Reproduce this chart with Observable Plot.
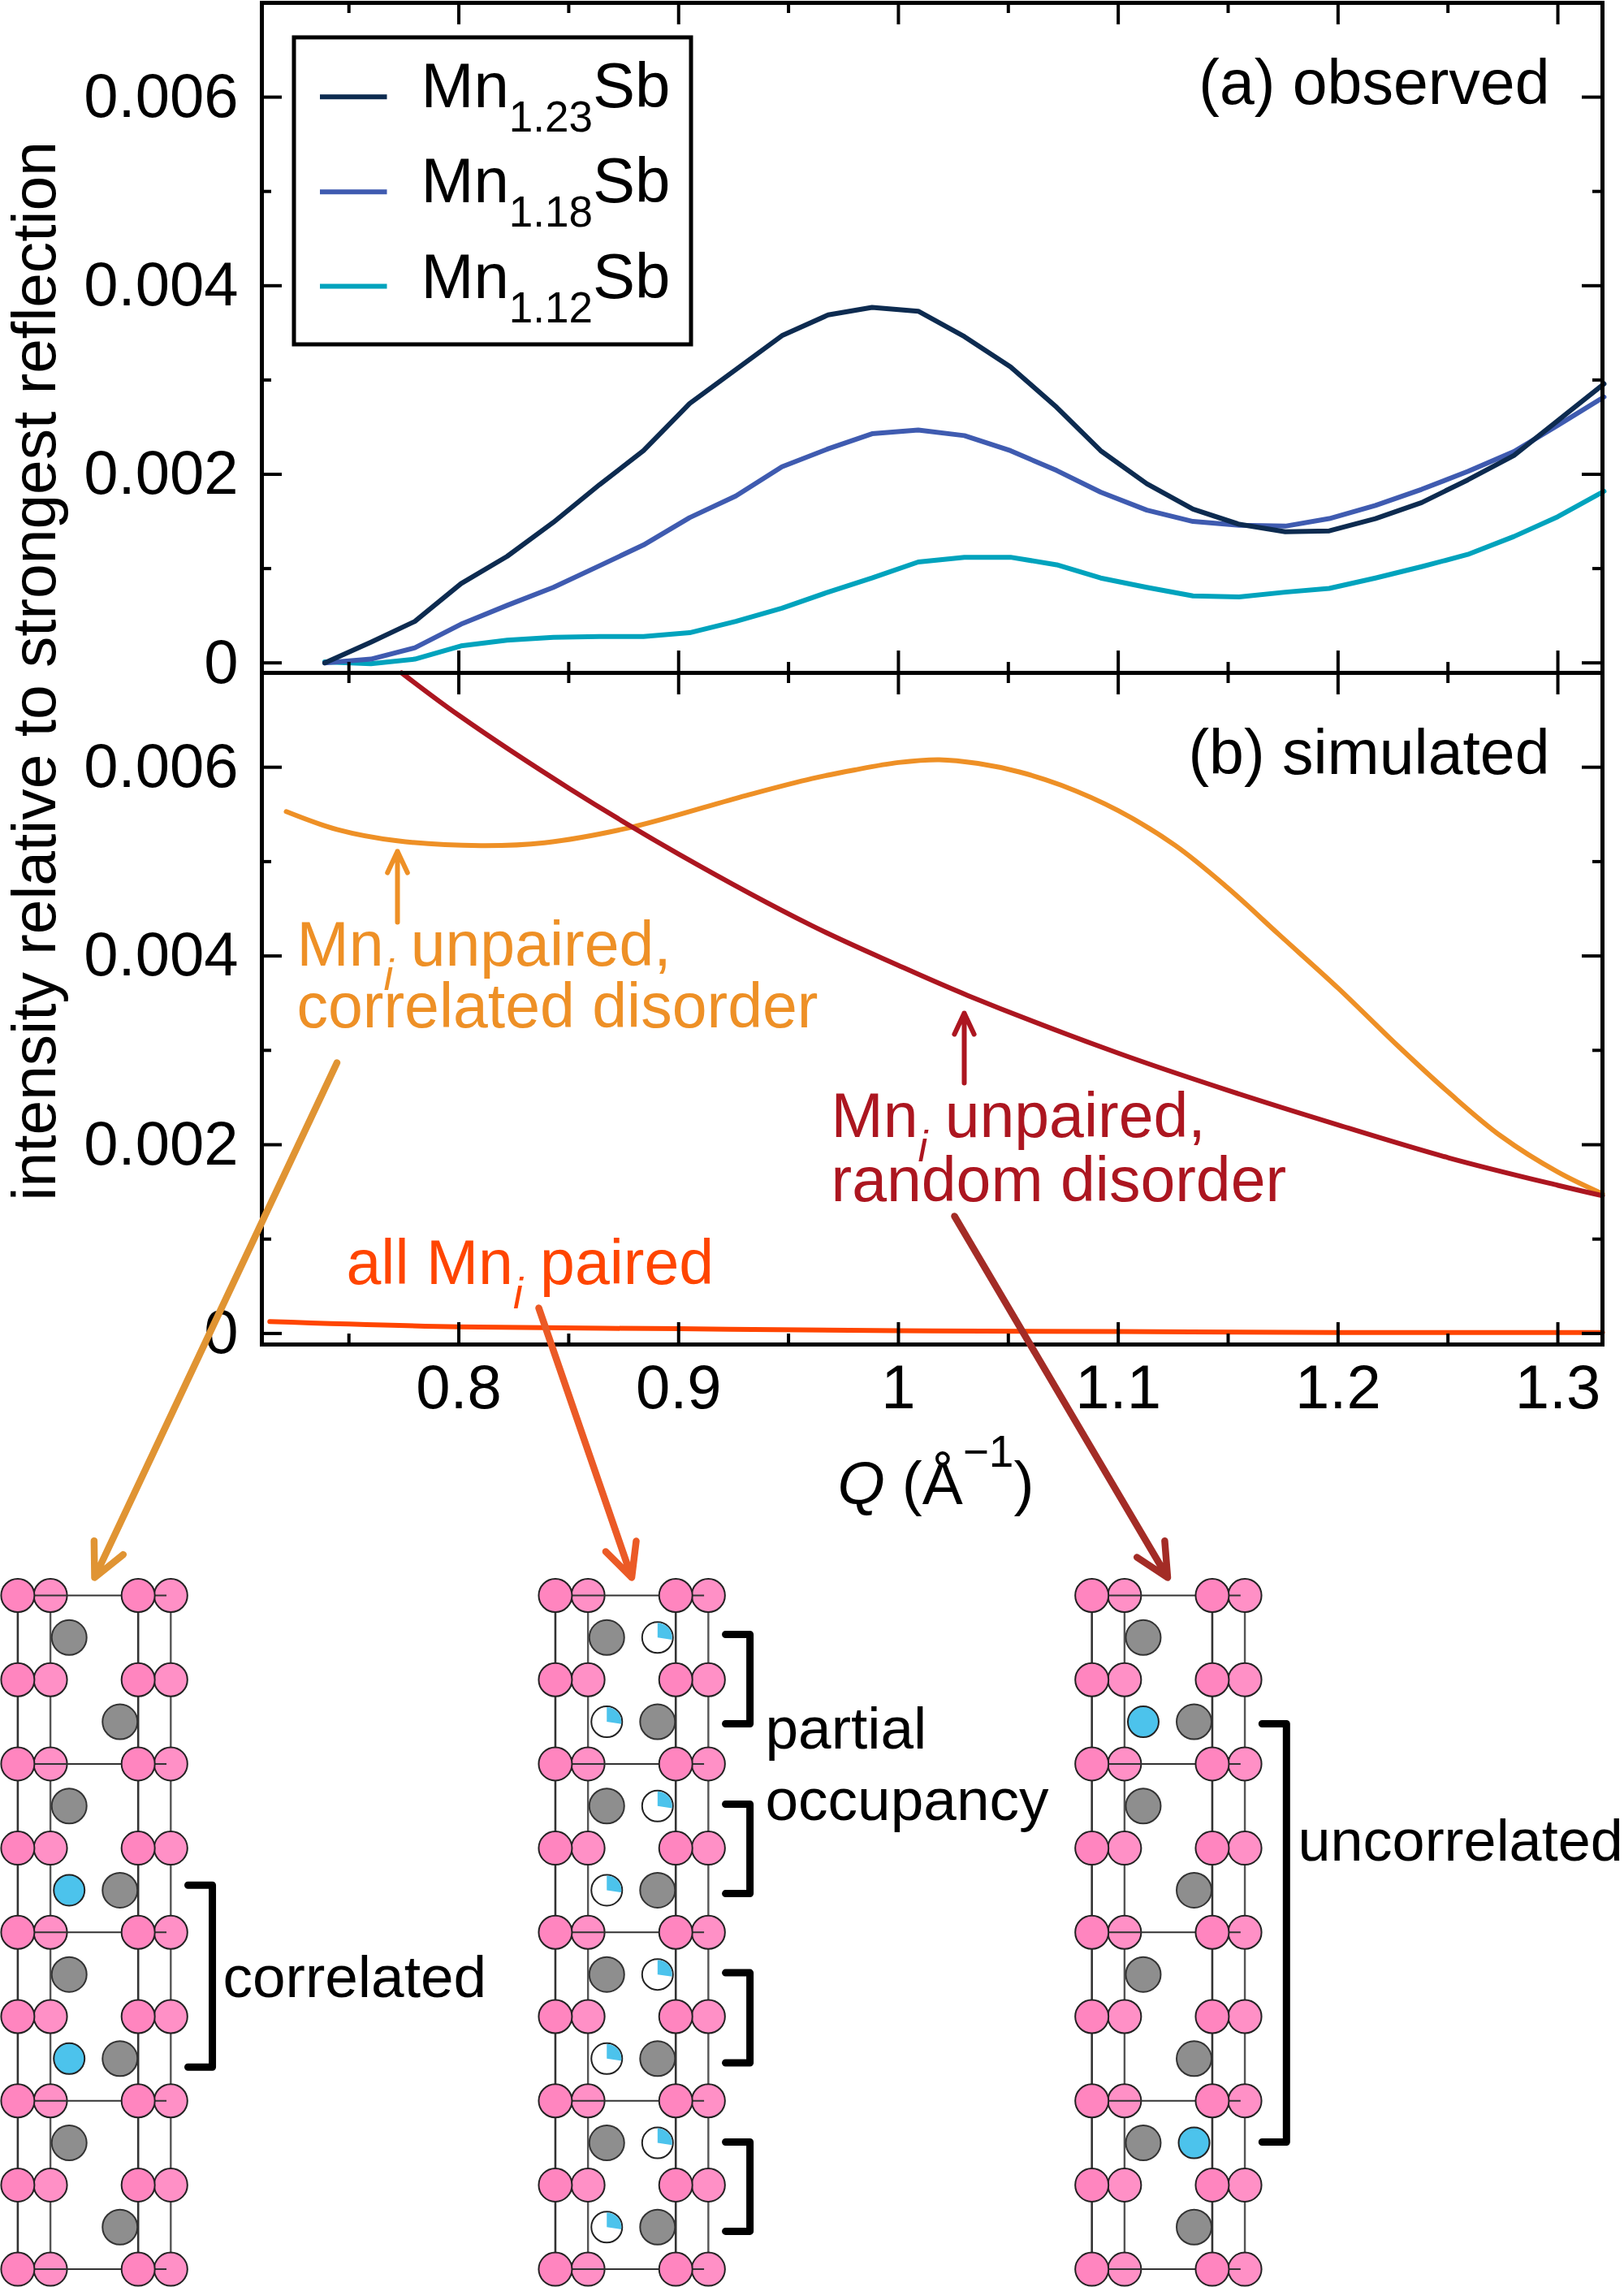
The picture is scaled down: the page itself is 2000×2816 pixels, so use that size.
<!DOCTYPE html>
<html>
<head>
<meta charset="utf-8">
<script src="https://cdn.jsdelivr.net/npm/d3@7"></script>
<script src="https://cdn.jsdelivr.net/npm/@observablehq/plot@0.6"></script>
<style>
  html, body { margin: 0; background: white; }
  #page { position: relative; width: 2000px; height: 2816px; overflow: hidden; }
  #page svg { position: absolute; left: 0; }
</style>
</head>
<body>
<div id="page"></div>
<script>
// (a) observed curves
const qObserved = [0.739, 0.760, 0.780, 0.801, 0.822, 0.843, 0.864, 0.884, 0.905, 0.926, 0.947, 0.968, 0.988, 1.009, 1.030,
    1.051, 1.072, 1.092, 1.113, 1.134, 1.155, 1.176, 1.196, 1.217, 1.238, 1.259, 1.280, 1.300, 1.321];
const mn123 = [0, 0.00022, 0.00044, 0.00084, 0.00113, 0.00149, 0.00189, 0.00225, 0.00275, 0.00311, 0.00347, 0.00369, 0.00377, 0.00373, 0.00346,
    0.00314, 0.00271, 0.00225, 0.0019, 0.00163, 0.00147, 0.00139, 0.0014, 0.00153, 0.0017, 0.00194, 0.0022, 0.00257, 0.00296];
const mn118 = [0, 0.00004, 0.00016, 0.00041, 0.00061, 0.0008, 0.00103, 0.00125, 0.00154, 0.00177, 0.00208, 0.00227, 0.00243, 0.00247, 0.00241,
    0.00225, 0.00204, 0.00181, 0.00162, 0.0015, 0.00146, 0.00145, 0.00153, 0.00167, 0.00184, 0.00203, 0.00224, 0.00252, 0.00282];
const mn112 = [0.00001, -0.00001, 0.00004, 0.00018, 0.00024, 0.00027, 0.00028, 0.00028, 0.00032, 0.00044, 0.00058, 0.00075, 0.0009, 0.00107, 0.00112,
    0.00112, 0.00104, 0.0009, 0.0008, 0.00071, 0.0007, 0.00075, 0.00079, 0.0009, 0.00102, 0.00115, 0.00134, 0.00155, 0.00182];

// (b) simulated curves
const qCorrelated = [0.7215, 0.7446, 0.772, 0.81, 0.8389, 0.8777, 0.9306, 0.9607, 0.9797, 1.0, 1.0186, 1.0362, 1.055, 1.074, 1.1, 1.126, 1.1494, 1.173, 1.2, 1.2271, 1.2505, 1.2742, 1.3, 1.3203];
const correlated = [0.00553, 0.00534, 0.00522, 0.00517, 0.0052, 0.00536, 0.0057, 0.00588, 0.00597, 0.00605, 0.00608, 0.00604, 0.00595, 0.00581, 0.00554, 0.00517, 0.00473, 0.00423, 0.00366, 0.00305, 0.00255, 0.00209, 0.00171, 0.00148];
const qRandom = [0.774, 0.8, 0.8506, 0.9, 0.9607, 1.0, 1.0317, 1.1, 1.1494, 1.2, 1.2505, 1.3, 1.3203];
const random = [0.007, 0.00655, 0.00577, 0.00508, 0.00432, 0.0039, 0.00358, 0.00297, 0.00258, 0.00221, 0.00186, 0.00157, 0.00146];
const qPaired = [0.714, 0.8, 0.9, 1.0, 1.1, 1.2, 1.3203];
const paired = [0.000126, 0.00007, 0.00005, 0.00003, 0.00002, 0.00001, 0.00001];

// ticks
const xMajor = [0.8, 0.9, 1.0, 1.1, 1.2, 1.3];
const xMinor = [0.75, 0.85, 0.95, 1.05, 1.15, 1.25];
const yMajor = [0, 0.002, 0.004, 0.006];
const yMinor = [0.001, 0.003, 0.005];

// legend
const legendNames = ["Mn_{1.23}Sb", "Mn_{1.18}Sb", "Mn_{1.12}Sb"];
const legendColors = ["#0d2b50", "#3f5bb0", "#00a3bd"];
const legendLineY = [118.7, 235.8, 352];
const legendTextY = [131.7, 248.8, 366.4];

// crystal columns in units of the cell width, layers counted from the top
const cellOffsets = [0, 3.514, 7.021];
const frontColumns = [0, 0.787];
const backColumns = [0.2134, 1];
const leftSite = 0.336;
const rightSite = 0.668;
const pinkRows = [0, 1, 2, 3, 4, 5, 6, 7, 8];
const cellRows = [0, 2, 4, 6, 8];
// what sits in the two interstitial sites of each of the 8 gaps (g: grey, b: blue, p: partial, -: empty)
const leftSites = ["g-gbgbg-", "gpgpgpgp", "gbg-g-g-"];
const rightSites = ["-g-g-g-g", "pgpgpgpg", "-g-g-gbg"];
const bracketRows = [[[3.44, 5.6]], [[0.463, 1.524], [2.478, 3.54], [4.48, 5.55], [6.49, 7.55]], [[1.524, 6.49]]];

// annotation texts, in page units
const labelText = ["(a) observed", "(b) simulated", "Mn_{/i} unpaired,", "correlated disorder", "Mn_{/i} unpaired,", "random disorder", "all Mn_{/i} paired",
    "correlated", "partial", "occupancy", "uncorrelated"];
const labelX = [1908, 1908, 365, 365, 1023, 1023, 426, 274, 942, 942, 1598];
const labelY = [127.4, 952, 1188, 1264.5, 1399.7, 1478, 1580, 2458, 2152, 2240, 2290];
const labelAnchor = ["end", "end", "start", "start", "start", "start", "start", "start", "start", "start", "start"];
const labelColor = ["black", "black", "#ee9026", "#ee9026", "#ac1620", "#ac1620", "#ff4500", "black", "black", "black", "black"];
const labelSize = [77, 77, 77, 77, 77, 77, 77, 73, 73, 73, 72];

// short arrows pointing at the curves, long ones down to the structures
const shortArrowX1 = [489, 1187];
const shortArrowY1 = [1135, 1333];
const shortArrowY2 = [1047.7, 1247];
const shortArrowColor = ["#ee9026", "#ac1620"];
const longArrowX1 = [414.5, 663, 1175];
const longArrowY1 = [1308, 1610, 1497];
const longArrowX2 = [116, 777.5, 1437.5];
const longArrowY2 = [1942, 1942, 1942];
const longArrowColor = ["#e09433", "#eb5a26", "#a32c26"];

const FONT = "'Liberation Sans', Arial, sans-serif";
const page = document.getElementById("page");

// Turn _{x} (subscript), _{/x} (italic subscript), ^{x} (superscript) and *x* (italic) into tspans
function richText(svg) {
    d3.select(svg).selectAll("text").each(function () {
        const source = this.textContent;
        if (!/[_^*]/.test(source)) return;
        const text = d3.select(this);
        text.text(null);
        let current = 0;
        for (const part of source.match(/_\{[^}]*\}|\^\{[^}]*\}|\*[^*]+\*|[^_^*]+/g)) {
            let content = part, shift = 0, size = null, italic = false;
            if (part[0] === "_") {
                content = part.slice(2, -1);
                shift = 30;
                size = 53;
                if (content[0] === "/") { content = content.slice(1); italic = true; }
            } else if (part[0] === "^") {
                content = part.slice(2, -1);
                shift = -46;
                size = 55;
            } else if (part[0] === "*") {
                content = part.slice(1, -1);
                italic = true;
            }
            const span = text.append("tspan").attr("dy", shift - current).text(content);
            if (size) span.attr("font-size", size);
            if (italic) span.attr("font-style", "italic");
            current = shift;
        }
    });
}

function place(plot, top) {
    plot.style.top = top + "px";
    richText(plot);
    page.appendChild(plot);
}

// Frame and the inward ticks shared by both panels
function panelFrame(innerWidth, innerHeight) {
    const tickMarks = (values, size, width, makeTick, sides) =>
        sides.map(side => makeTick(values, { [side]: size, strokeWidth: width, stroke: "black" }));
    return [
        tickMarks(xMajor, innerHeight - 27, 4, Plot.ruleX, ["insetTop", "insetBottom"]),
        tickMarks(xMinor, innerHeight - 13, 4, Plot.ruleX, ["insetTop", "insetBottom"]),
        tickMarks(yMajor, innerWidth - 25, 4, Plot.ruleY, ["insetLeft", "insetRight"]),
        tickMarks(yMinor, innerWidth - 12, 4, Plot.ruleY, ["insetLeft", "insetRight"]),
        Plot.frame({ stroke: "black", strokeWidth: 5 })
    ];
}

const yTickFormat = d => d === 0 ? "0" : d.toFixed(3);
const shared = {
    width: 2000,
    marginLeft: 322,
    marginRight: 27,
    style: { background: "transparent", fontFamily: FONT }
};

// Panel (a)
const panelA = Plot.plot({
    ...shared,
    height: 870,
    marginTop: 3,
    marginBottom: 42,
    x: { domain: [0.7104, 1.3203], axis: null },
    y: { domain: [-0.000106, 0.007] },
    marks: [
        Plot.axisY(yMajor, { anchor: "left", tickSize: 0, tickPadding: 29, fontSize: 76, tickFormat: yTickFormat, label: null }),
        Plot.line(qObserved, { x: qObserved, y: mn112, stroke: legendColors[2], strokeWidth: 6 }),
        Plot.line(qObserved, { x: qObserved, y: mn118, stroke: legendColors[1], strokeWidth: 6 }),
        Plot.line(qObserved, { x: qObserved, y: mn123, stroke: legendColors[0], strokeWidth: 6 }),
        panelFrame(1651, 825)
    ]
});
place(panelA, 0);

// Panel (b)
const panelB = Plot.plot({
    ...shared,
    height: 940,
    marginTop: 8,
    marginBottom: 105,
    x: { domain: [0.7104, 1.3203] },
    y: { domain: [-0.000117, 0.007] },
    marks: [
        Plot.axisX(xMajor, { anchor: "bottom", tickSize: 0, tickPadding: 25, fontSize: 76, tickFormat: d => d === 1 ? "1" : d.toFixed(1), label: null }),
        Plot.axisY(yMajor, { anchor: "left", tickSize: 0, tickPadding: 29, fontSize: 76, tickFormat: yTickFormat, label: null }),
        Plot.line(qPaired, { x: qPaired, y: paired, stroke: "#ff4500", strokeWidth: 6, curve: "catmull-rom" }),
        Plot.line(qCorrelated, { x: qCorrelated, y: correlated, stroke: "#ee9026", strokeWidth: 6, curve: "catmull-rom" }),
        Plot.line(qRandom, { x: qRandom, y: random, stroke: "#ac1620", strokeWidth: 6, curve: "catmull-rom" }),
        panelFrame(1651, 827)
    ]
});
place(panelB, 820);

// Crystal structures, drawn from the layer tables above
const siteKinds = { g: "grey", b: "blue", p: "partial" };
const atoms = [];
cellOffsets.forEach((offset, c) => {
    for (let gap = 0; gap < 8; gap++) {
        const left = siteKinds[leftSites[c][gap]];
        const right = siteKinds[rightSites[c][gap]];
        if (left) atoms.push({ x: offset + leftSite, row: gap + 0.5, kind: left });
        if (right) atoms.push({ x: offset + rightSite, row: gap + 0.5, kind: right });
    }
});
const ofKind = kind => atoms.filter(d => d.kind === kind);
const columnsAt = columns => cellOffsets.flatMap(o => columns.map(x => x + o));
const grid = (columns, rows) => columns.flatMap(x => rows.map(row => ({ x, row })));
const brackets = bracketRows.flatMap((spans, c) => spans.flatMap(([top, bottom], i) => [
    { id: `${c}-${i}`, x: cellOffsets[c] + 1.1125, row: top },
    { id: `${c}-${i}`, x: cellOffsets[c] + 1.272, row: top },
    { id: `${c}-${i}`, x: cellOffsets[c] + 1.272, row: bottom },
    { id: `${c}-${i}`, x: cellOffsets[c] + 1.1125, row: bottom }
]));
const wedge = {
    draw(context, size) {
        const r = Math.sqrt(size / Math.PI);
        context.moveTo(0, 0);
        context.lineTo(0, -r);
        context.arc(0, 0, r, -Math.PI / 2, -Math.PI / 2 + 1.72);
        context.closePath();
    }
};

const crystals = Plot.plot({
    width: 2000,
    height: 916,
    margin: 0,
    x: { domain: [-0.1136, 10.502], axis: null },
    y: { domain: [-0.617, 8.216], reverse: true, axis: null },
    style: { background: "transparent", fontFamily: FONT },
    marks: [
        Plot.link(columnsAt(frontColumns), { x1: d => d, x2: d => d, y1: () => 0, y2: () => 8, stroke: "#333", strokeWidth: 2.6 }),
        Plot.link(columnsAt(backColumns), { x1: d => d, x2: d => d, y1: () => 0, y2: () => 8, stroke: "#555", strokeWidth: 2.4 }),
        Plot.dot(grid(columnsAt(backColumns), pinkRows), { x: "x", y: "row", r: 20.5, fill: "#ff90c6", stroke: "#222", strokeWidth: 2 }),
        Plot.link(grid(cellOffsets, cellRows), { x1: "x", x2: d => d.x + 0.972, y1: "row", y2: "row", stroke: "#333", strokeWidth: 2 }),
        Plot.dot(grid(columnsAt(frontColumns), pinkRows), { x: "x", y: "row", r: 20.5, fill: "#ff85bf", stroke: "#222", strokeWidth: 2 }),
        Plot.dot(ofKind("grey"), { x: "x", y: "row", r: 21.5, fill: "#8e8e8e", stroke: "#333", strokeWidth: 2 }),
        Plot.dot(ofKind("blue"), { x: "x", y: "row", r: 19, fill: "#4cc3ec", stroke: "#222", strokeWidth: 2 }),
        Plot.dot(ofKind("partial"), { x: "x", y: "row", r: 19, fill: "white", stroke: "#222", strokeWidth: 2 }),
        Plot.dot(ofKind("partial"), { x: "x", y: "row", r: 18, fill: "#4cc3ec", stroke: "none", symbol: wedge }),
        Plot.line(brackets, { x: "x", y: "row", z: "id", stroke: "black", strokeWidth: 9, strokeLinejoin: "round" })
    ]
});
place(crystals, 1900);

// Overlay in page units: axis titles, the legend, annotations and arrows
const overlayLabels = labelText.map((text, i) => ({ text, x: labelX[i], y: labelY[i], anchor: labelAnchor[i], color: labelColor[i], size: labelSize[i] }));

const overlay = Plot.plot({
    width: 2000,
    height: 2816,
    margin: 0,
    x: { domain: [0, 2000], axis: null },
    y: { domain: [0, 2816], reverse: true, axis: null },
    style: { background: "transparent", fontFamily: FONT },
    marks: [
        // legend box
        Plot.rect([0], { x1: () => 362, x2: () => 851, y1: () => 46, y2: () => 424, fill: "white", stroke: "black", strokeWidth: 5 }),
        Plot.link(legendNames, { x1: () => 393.5, x2: () => 476, y1: legendLineY, y2: legendLineY, stroke: legendColors, strokeWidth: 6 }),
        Plot.text(legendNames, { x: () => 518, y: legendTextY, text: d => d, fontSize: 78, textAnchor: "start", lineAnchor: "bottom", fill: "black" }),
        // annotations
        overlayLabels.map(d => Plot.text([d], { x: "x", y: "y", text: "text", fill: "color", fontSize: d.size, textAnchor: d.anchor, lineAnchor: "bottom" })),
        Plot.arrow(shortArrowX1, { x1: shortArrowX1, y1: shortArrowY1, x2: shortArrowX1, y2: shortArrowY2, stroke: shortArrowColor, strokeWidth: 6, headAngle: 50, headLength: 11, strokeLinejoin: "miter" }),
        Plot.arrow(longArrowX1, { x1: longArrowX1, y1: longArrowY1, x2: longArrowX2, y2: longArrowY2, stroke: longArrowColor, strokeWidth: 8.5, headAngle: 52, headLength: 8, strokeLinejoin: "miter" }),
        // axis titles
        Plot.text(["intensity relative to strongest reflection"], { x: () => 67, y: () => 1478, text: d => d, rotate: -90, fontSize: 76.7, textAnchor: "start", lineAnchor: "bottom", fill: "black" }),
        Plot.text(["*Q* (Å^{−1})"], { x: () => 1031, y: () => 1851.5, text: d => d, fontSize: 75, textAnchor: "start", lineAnchor: "bottom", fill: "black" })
    ]
});
place(overlay, 0);
</script>
</body>
</html>
